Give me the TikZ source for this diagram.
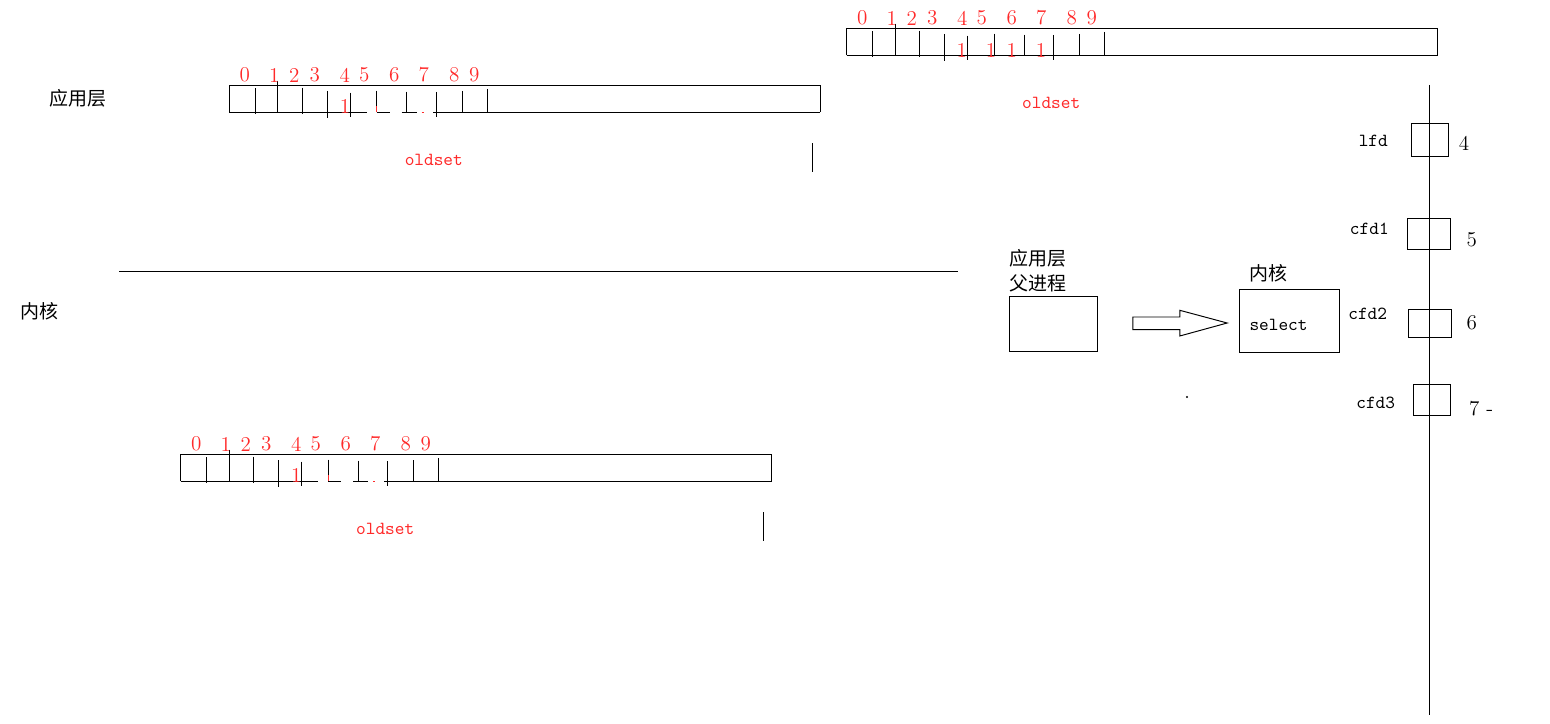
\documentclass[tikz,border=0pt]{standalone}
\usepackage{fontspec}
\newfontfamily\cjk{Noto Sans CJK SC}
\usetikzlibrary{positioning,calc}
\definecolor{bitred}{HTML}{FF2A2A}

\begin{document}
\begin{tikzpicture}[x=0.02cm, y=-0.02cm, line width=0.55pt,
    zh/.style={font=\cjk\fontsize{10.8}{14.5}\selectfont, inner sep=0pt},
    digit/.style={font=\fontsize{12}{14}\selectfont, text=bitred, inner sep=0pt},
    mono/.style={font=\ttfamily\fontsize{10.5}{12}\selectfont, inner sep=0pt},
    num/.style={font=\fontsize{12}{14}\selectfont, inner sep=0pt},
    fdbox/.style={draw, inner sep=0pt}
]
\fill[white] (0,0) rectangle (1550,723);
\useasboundingbox (0,0) rectangle (1550,723);

% the three bit sets
\foreach \bar/\bx/\by/\full in {app/229.3/85.3/0, sel/846.7/28.3/1, ker/180.7/454.3/0} {
  \begin{scope}[shift={(\bx,\by)}]
    \draw (0,27) -- (0,0) -- (591,0) -- (591,27);
    \foreach \tx/\ta/\tb in {26/3/29, 48.5/-4.7/27, 73/2.4/29, 98/5.7/32.7, 121/7.4/31.4,
        147.4/5.4/27, 177.4/6.4/27, 206.7/6.7/31.7, 232.7/5.7/27, 257.7/3.7/27}
      \draw (\tx,\ta) -- (\tx,\tb);
    \foreach \dx [count=\k from 0] in {15.5,45,65,85.5,115.5,135,165,194.5,225,245}
      \node[digit] (\bar-d\k) at (\dx,-10.3) {\k};
    \node[mono, text=bitred] (\bar-set) at (204.5,74.7) {oldset};
    \ifnum\full=1
      \draw (0,27) -- (591,27);
      \foreach \ox [count=\k] in {115,144.3,165,194.3}
        \node[digit] (\bar-one\k) at (\ox,21.7) {1};
    \else
      \draw (0,27) -- (137.4,27) (147.4,27) -- (160.7,27) (172.4,27) -- (187.4,27)
            (203.7,27) -- (591,27);
      \draw[bitred] (147.4,21) -- (147.4,27) (192.4,27) -- (194.7,27);
      \node[digit] (\bar-one) at (115.7,21) {1};
      \draw (582.7,57.7) -- (582.7,86.7);
    \fi
  \end{scope}
}

\draw (119,271) -- (958,271);
\node[zh] (appl) at (78.3,98) {应用层};
\node[zh] (kern) at (39.5,311.5) {内核};

% parent process and select
\node[zh, align=left] (ptext) at (1038.3,270.5) {应用层\\父进程};
\node[draw, minimum width=1.76cm, minimum height=1.1cm] (parent) at (1053,323.5) {};
\node[draw, minimum width=2cm, minimum height=1.26cm] (select) at (1289.3,320.8) {};
\node[mono, anchor=west] (seltext) at (1249,325) {select};
\node[zh] (ktext) at (1268.3,272.8) {内核};
\draw ($(parent.east)+(35.3,-6.5)$) -- ++(47,0) -- ++(0,-6.7) -- ++(47.4,12.7)
      -- ++(-47.4,13) -- ++(0,-6.4) -- ++(-47,0) -- cycle;
\fill (1187,397) circle (1.2);

% descriptor column
\coordinate (ftop) at (1429.3,85);
\coordinate (fbot) at (1429.3,715);
\draw (ftop) -- (fbot);
\node[fdbox, minimum width=0.74cm, minimum height=0.66cm] (lfd) at (1429.8,139.7) {};
\node[fdbox, minimum width=0.87cm, minimum height=0.62cm] (cfd1) at (1429,233.8) {};
\node[fdbox, minimum width=0.87cm, minimum height=0.55cm] (cfd2) at (1430,323.7) {};
\node[fdbox, minimum width=0.75cm, minimum height=0.63cm] (cfd3) at (1432,400.2) {};
\node[mono] (lfdl) at (1373.3,141) {lfd};
\node[mono] (cfd1l) at (1369.3,229.3) {cfd1};
\node[mono] (cfd2l) at (1367.7,314) {cfd2};
\node[mono] (cfd3l) at (1375.7,403.3) {cfd3};
\node[num] (n4) at (1464,143.3) {4};
\node[num] (n5) at (1471.7,239.3) {5};
\node[num] (n6) at (1471.7,322.7) {6};
\node[num, anchor=west] (n7) at (1468.7,408.3) {7 -};
\end{tikzpicture}
\end{document}
